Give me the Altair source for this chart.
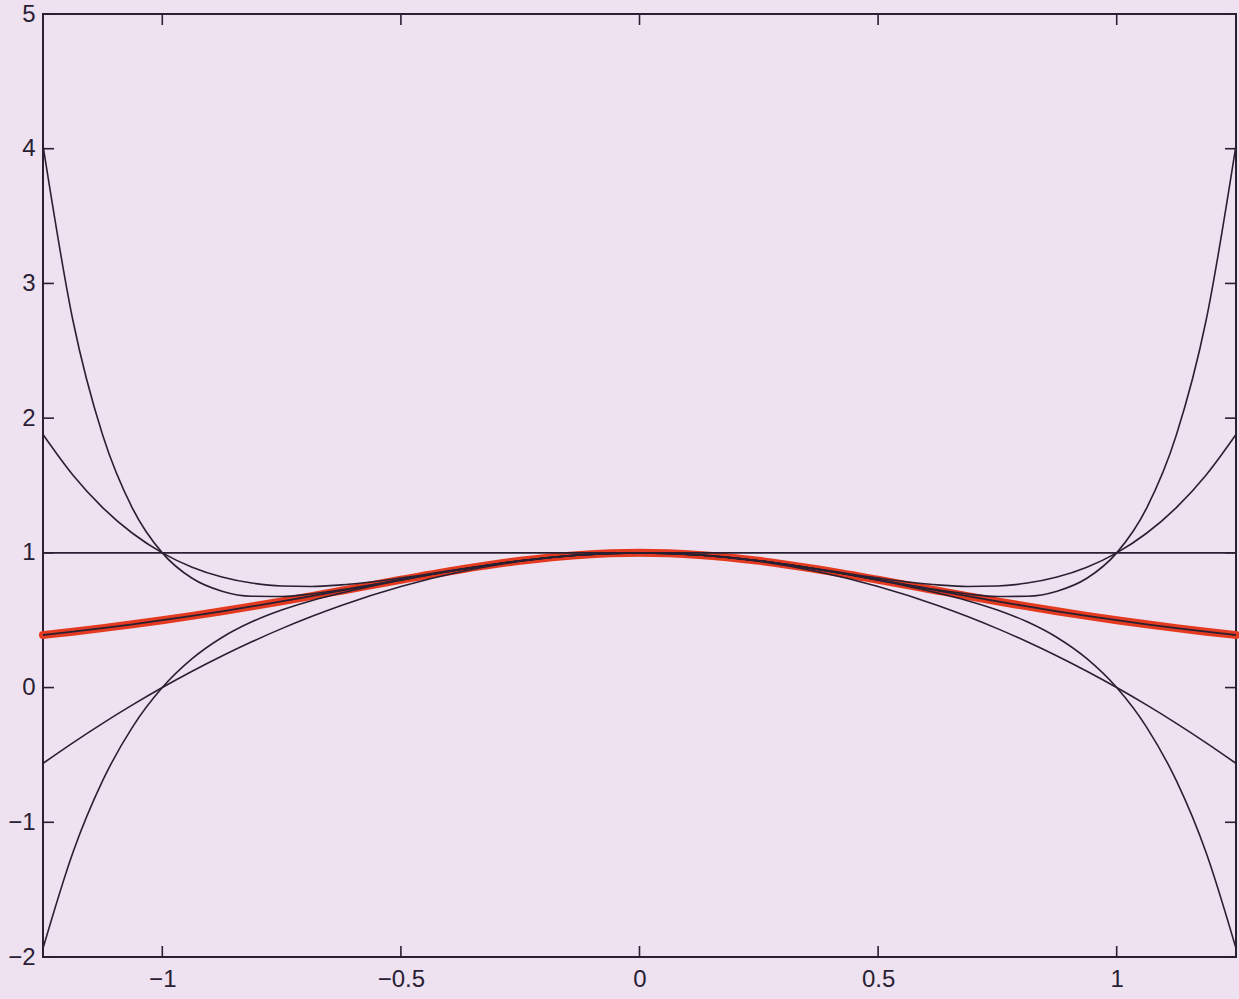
import altair as alt
import pandas as pd

# x sample positions
x_vals = [-1.25, -1.1875, -1.125, -1.0625, -1.0, -0.9375, -0.875, -0.8125, -0.75, -0.6875,
          -0.625, -0.5, -0.375, -0.25, -0.125, 0.0, 0.125, 0.25, 0.375, 0.5, 0.625,
          0.6875, 0.75, 0.8125, 0.875, 0.9375, 1.0, 1.0625, 1.125, 1.1875, 1.25]

p0 = [1.0] * 31
p2 = [-0.5625, -0.4102, -0.2656, -0.1289, 0.0, 0.1211, 0.2344, 0.3398, 0.4375, 0.5273,
      0.6094, 0.75, 0.8594, 0.9375, 0.9844, 1.0, 0.9844, 0.9375, 0.8594, 0.75, 0.6094,
      0.5273, 0.4375, 0.3398, 0.2344, 0.1211, 0.0, -0.1289, -0.2656, -0.4102, -0.5625]
p4 = [1.8789, 1.5784, 1.3362, 1.1455, 1.0, 0.8936, 0.8206, 0.7757, 0.7539, 0.7507,
      0.7620, 0.8125, 0.8792, 0.9414, 0.9846, 1.0, 0.9846, 0.9414, 0.8792, 0.8125, 0.7620,
      0.7507, 0.7539, 0.7757, 0.8206, 0.8936, 1.0, 1.1455, 1.3362, 1.5784, 1.8789]
p6 = [-1.9358, -1.2258, -0.6911, -0.2932, 0.0, 0.2146, 0.3718, 0.4880, 0.5759, 0.6452,
      0.7024, 0.7969, 0.8764, 0.9412, 0.9846, 1.0, 0.9846, 0.9412, 0.8764, 0.7969, 0.7024,
      0.6452, 0.5759, 0.4880, 0.3718, 0.2146, 0.0, -0.2932, -0.6911, -1.2258, -1.9358]
p8 = [4.0247, 2.7285, 1.8747, 1.3310, 1.0, 0.8114, 0.7154, 0.6779, 0.6760, 0.6951,
      0.7256, 0.8008, 0.8768, 0.9412, 0.9846, 1.0, 0.9846, 0.9412, 0.8768, 0.8008, 0.7256,
      0.6951, 0.6760, 0.6779, 0.7154, 0.8114, 1.0, 1.3310, 1.8747, 2.7285, 4.0247]
f_vals = [0.3902, 0.4149, 0.4414, 0.4697, 0.5, 0.5322, 0.5664, 0.6024, 0.64, 0.6790,
          0.7191, 0.8, 0.8767, 0.9412, 0.9846, 1.0, 0.9846, 0.9412, 0.8767, 0.8, 0.7191,
          0.6790, 0.64, 0.6024, 0.5664, 0.5322, 0.5, 0.4697, 0.4414, 0.4149, 0.3902]

x_ticks = [-1, -0.5, 0, 0.5, 1]
y_ticks = [-2, -1, 0, 1, 2, 3, 4, 5]

W, H = 1193, 943
BG = "#EEE2F1"
INK = "#2A2033"

rows = []
for name, ys in [("p0", p0), ("p2", p2), ("p4", p4), ("p6", p6), ("p8", p8)]:
    for xv, yv in zip(x_vals, ys):
        rows.append({"x": xv, "y": yv, "s": name})
black_df = pd.DataFrame(rows)
f_df = pd.DataFrame({"x": x_vals, "y": f_vals})

xs = alt.Scale(domain=[-1.25, 1.25], nice=False, zero=False)
ys_ = alt.Scale(domain=[-2, 5], nice=False, zero=False)

x_axis = alt.Axis(values=x_ticks, format="~g", ticks=False, domain=False, grid=False,
                  labelFontSize=24, labelFont="Liberation Sans", labelColor=INK,
                  labelPadding=10, title=None)
y_axis = alt.Axis(values=y_ticks, format="~g", ticks=False, domain=False, grid=False,
                  labelFontSize=24, labelFont="Liberation Sans", labelColor=INK,
                  labelPadding=8, title=None)

red = alt.Chart(f_df).mark_line(color="#E43A1F", strokeWidth=8, interpolate="monotone",
                                strokeCap="round").encode(
    x=alt.X("x:Q", scale=xs, axis=x_axis),
    y=alt.Y("y:Q", scale=ys_, axis=y_axis),
)

blacks = alt.Chart(black_df).mark_line(color=INK, strokeWidth=1.6, interpolate="monotone").encode(
    x=alt.X("x:Q", scale=xs),
    y=alt.Y("y:Q", scale=ys_),
    detail="s:N",
)

f_line = alt.Chart(f_df).mark_line(color=INK, strokeWidth=1.8, interpolate="monotone").encode(
    x=alt.X("x:Q", scale=xs),
    y=alt.Y("y:Q", scale=ys_),
)

xt_df = pd.DataFrame({"t": x_ticks})
yt_df = pd.DataFrame({"t": y_ticks})

xt_bottom = alt.Chart(xt_df).mark_rule(color=INK, strokeWidth=1.6).encode(
    x=alt.X("t:Q", scale=xs), y=alt.value(H), y2=alt.value(H - 11))
xt_top = alt.Chart(xt_df).mark_rule(color=INK, strokeWidth=1.6).encode(
    x=alt.X("t:Q", scale=xs), y=alt.value(0), y2=alt.value(11))
yt_left = alt.Chart(yt_df).mark_rule(color=INK, strokeWidth=1.6).encode(
    y=alt.Y("t:Q", scale=ys_), x=alt.value(0), x2=alt.value(11))
yt_right = alt.Chart(yt_df).mark_rule(color=INK, strokeWidth=1.6).encode(
    y=alt.Y("t:Q", scale=ys_), x=alt.value(W), x2=alt.value(W - 11))

chart = alt.layer(red, blacks, f_line, xt_bottom, xt_top, yt_left, yt_right).properties(
    width=W, height=H,
    autosize=alt.AutoSizeParams(type="none"),
    padding={"left": 43, "top": 14, "right": 3, "bottom": 42},
    background=BG,
).configure_view(stroke=INK, strokeWidth=2)

chart.save("out.html", embed_options={"renderer": "svg", "actions": False})
